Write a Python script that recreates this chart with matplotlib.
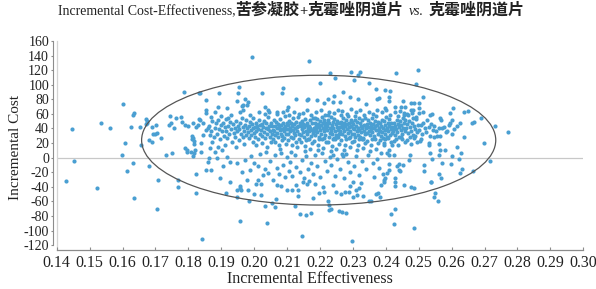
import matplotlib
matplotlib.use('Agg')
import matplotlib.pyplot as plt
from matplotlib.patches import Ellipse
import numpy as np

plt.rcParams['axes.unicode_minus'] = False

SERIF = ['Liberation Serif', 'DejaVu Serif']
CJK = ['Noto Sans CJK SC', 'DejaVu Sans']
DOT = '#4a9fd2'

# ---- data: (incremental effectiveness, incremental cost) ----
left_pts = [
    (0.1428, -32), (0.1446, 39), (0.1452, -5), (0.1523, -42), (0.1535, 47), (0.1563, 41),
    (0.1597, 3), (0.1600, 73), (0.1607, 20), (0.1615, -19), (0.1627, 42), (0.1631, 58),
    (0.1636, 61), (0.1633, -7), (0.1635, -56), (0.1652, 42), (0.1656, 18), (0.1672, 53),
    (0.1673, 50), (0.1670, 46), (0.1675, 48), (0.1679, 24), (0.1689, 22), (0.1679, -12),
    (0.1691, 42), (0.1693, 33), (0.1698, 33), (0.1704, 34), (0.1702, 45), (0.1705, -70),
    (0.1709, -30), (0.1718, 27), (0.1733, 3), (0.1741, 45), (0.1748, 47), (0.1745, 57),
    (0.1749, 7), (0.1755, 41), (0.1762, 55), (0.1768, -40), (0.1770, -31), (0.1779, 56),
    (0.1782, 49), (0.1787, 90), (0.1789, 13), (0.1791, 45), (0.1795, 8), (0.1797, 10),
    (0.1799, 44), (0.1809, 8), (0.1810, 25), (0.1812, 30), (0.1815, 27), (0.1817, 23),
    (0.1814, 48), (0.1815, 2), (0.1818, 6), (0.1819, 11), (0.1822, -23), (0.1824, -48),
    (0.1824, 42), (0.1829, 45), (0.1831, 53), (0.1832, 89), (0.1834, 52), (0.1838, 8),
    (0.1841, -112), (0.1843, 47), (0.1837, 20), (0.1845, 31), (0.1816, 19),
]

mid_left_pts = [
    (0.1853, 79), (0.1855, 65), (0.1890, 70), (0.1916, 68), (0.1880, 62), (0.1898, 57),
    (0.1870, 56), (0.1890, 51), (0.1855, 61), (0.1860, 40), (0.1855, 38), (0.1865, 13),
    (0.1880, 8), (0.1890, 14), (0.1901, 10), (0.1916, 1), (0.1887, -1), (0.1863, -1),
    (0.1860, -6), (0.1870, -17), (0.1895, -28), (0.1905, -12), (0.1926, -6), (0.1947, -8),
    (0.1972, -3), (0.1987, -17), (0.2012, -12), (0.2033, -15), (0.2043, -21), (0.2012, -31),
    (0.1977, -31), (0.1956, -39), (0.1926, -34), (0.1855, -17), (0.1892, 88), (0.1954, 97),
    (0.1951, 89), (0.1948, 78), (0.1972, 81), (0.1977, 72), (0.1965, 72), (0.1967, 65),
    (0.2023, 89), (0.1921, 55), (0.1994, 138), (0.2087, 96), (0.2084, 89), (0.2033, 69),
    (0.2043, 65), (0.2068, 63), (0.2099, 65), (0.2104, 70), (0.1982, 77), (0.1962, 71),
]

low_pts = [
    (0.1913, -48), (0.1948, -44), (0.1956, -41), (0.1948, -54), (0.1960, -44), (0.1956, -87),
    (0.1981, -44), (0.2006, -36), (0.2022, -36), (0.2020, -51), (0.2033, -66), (0.2040, -89),
    (0.2063, -68), (0.2065, -57), (0.2068, -37), (0.2083, -39), (0.2099, -44), (0.2116, -44),
    (0.2126, -38), (0.2132, -45), (0.2132, -52), (0.2125, -66), (0.2138, -77), (0.2157, -78),
    (0.2174, -76), (0.2145, -107), (0.2147, -34), (0.2160, -36), (0.2166, -32), (0.2197, -49),
    (0.2213, -47), (0.2223, -60), (0.2228, -65), (0.2226, -72), (0.2234, -70), (0.2248, -47),
    (0.2259, -73), (0.2268, -75), (0.2279, -76), (0.2277, -47), (0.2287, -47), (0.2292, -39),
    (0.2300, -34), (0.2308, -44), (0.2317, -41), (0.2312, -51), (0.2299, -54), (0.2297, -114),
    (0.2332, -53), (0.2350, -60), (0.2355, -59), (0.2369, -50), (0.2375, -48), (0.2383, -54),
    (0.2385, -38), (0.2395, -33), (0.2417, -77), (0.2427, -70), (0.2425, -91), (0.2427, -39),
    (0.2429, -33), (0.2454, -38), (0.2477, -40), (0.2485, -42), (0.2486, -97), (0.2537, -33),
    (0.2549, -49), (0.2546, -54), (0.2559, -60),
]

low_mid_pts = [
    (0.1962, -20), (0.1990, 2), (0.2000, -8), (0.2018, 5), (0.2028, -24), (0.2036, 8),
    (0.2048, -5), (0.2056, -30), (0.2062, 3), (0.2070, -14), (0.2076, -22), (0.2081, 6),
    (0.2087, -10), (0.2094, -27), (0.2100, 1), (0.2105, -18), (0.2110, -6), (0.2116, -25),
    (0.2123, 4), (0.2128, -13), (0.2139, -20), (0.2145, -3), (0.2150, -28), (0.2156, 2),
    (0.2163, -16), (0.2172, -8), (0.2180, -22), (0.2185, 3), (0.2190, -12), (0.2200, -26),
    (0.2205, 6), (0.2214, -4), (0.2220, -18), (0.2232, -10), (0.2245, -25), (0.2251, -2),
    (0.2260, -15), (0.2266, 5), (0.2274, -28), (0.2285, -6), (0.2291, -20), (0.2303, -12),
    (0.2310, 2), (0.2320, -24), (0.2327, -4), (0.2340, -16), (0.2346, 4), (0.2360, -8),
    (0.2365, -27), (0.2372, -2), (0.2380, -14), (0.2390, -22), (0.2210, -40), (0.2185, -36),
    (0.2240, -38), (0.2325, -35), (0.2265, -50), (0.2180, -55), (0.2055, -62), (0.1985, -60),
    (0.2000, -50),
]

right_pts = [
    (0.2505, 23), (0.2530, 20), (0.2532, 17), (0.2563, 19), (0.2617, 14), (0.2627, 7),
    (0.2622, -2), (0.2602, 2), (0.2599, -9), (0.2630, -16), (0.2624, -21), (0.2534, 6),
    (0.2541, -2), (0.2562, 4), (0.2570, -8), (0.2515, -10), (0.2515, -18), (0.2562, -22),
    (0.2569, -28), (0.2536, -33), (0.2666, -18), (0.2717, -5), (0.2440, -9), (0.2452, -10),
    (0.2441, -17), (0.2443, -19), (0.2434, -12), (0.2409, -9), (0.2409, -17), (0.2404, -21),
    (0.2398, -28), (0.2393, -30), (0.2429, -28), (0.2473, 4), (0.2470, -3), (0.2409, 4),
    (0.2409, 10), (0.2419, 17), (0.2404, 6), (0.2393, 20), (0.2424, 4), (0.2385, 6),
    (0.2498, 120), (0.2492, 101), (0.2513, 83), (0.2452, 78), (0.2475, 75), (0.2487, 75),
    (0.2500, 75), (0.2446, 70), (0.2459, 70), (0.2477, 65), (0.2483, 66), (0.2454, 61),
    (0.2464, 60), (0.2500, 68), (0.2513, 63), (0.2534, 58), (0.2541, 60), (0.2605, 68),
    (0.2595, 61), (0.2637, 62), (0.2651, 64), (0.2566, 55), (0.2568, 51), (0.2602, 52),
    (0.2595, 47), (0.2576, 42), (0.2561, 40), (0.2587, 37), (0.2602, 32), (0.2554, 30),
    (0.2546, 28), (0.2566, 30), (0.2639, 29), (0.2579, 11), (0.2566, 10), (0.2668, 49),
    (0.2663, 47), (0.2688, 55), (0.2731, 43), (0.2770, 35), (0.2698, 20), (0.2431, 116),
]

upper_pts = [
    (0.2168, 133), (0.2229, 116), (0.2295, 118), (0.2322, 118), (0.2314, 113), (0.2247, 109),
    (0.2302, 107), (0.2200, 103), (0.2348, 102), (0.1834, 89), (0.2127, 81), (0.2162, 79),
    (0.2165, 81), (0.2192, 79), (0.2223, 81), (0.2243, 84), (0.2270, 90), (0.2213, 75),
    (0.2315, 81), (0.2341, 73), (0.2370, 94), (0.2378, 82), (0.2396, 68), (0.2412, 92),
    (0.2409, 78), (0.2409, 83), (0.2398, 93), (0.2292, 83), (0.2262, 77), (0.2241, 77),
    (0.2373, 80), (0.2429, 70), (0.2500, 61), (0.2483, 55),
]

band_pts = [
    (0.1862, 44), (0.1868, 36), (0.1873, 50), (0.1877, 29), (0.1881, 41), (0.1884, 47),
    (0.1888, 33), (0.1893, 39), (0.1896, 25), (0.1871, 22), (0.1899, 45), (0.1866, 31),
    (0.1902, 36), (0.1905, 48), (0.1907, 30), (0.1910, 42), (0.1913, 53), (0.1915, 37),
    (0.1918, 27), (0.1921, 44), (0.1924, 32), (0.1927, 49), (0.1930, 39), (0.1933, 21),
    (0.1935, 46), (0.1938, 34), (0.1911, 18), (0.1929, 58),
    (0.1941, 41), (0.1943, 29), (0.1946, 50), (0.1948, 36), (0.1951, 44), (0.1953, 24),
    (0.1955, 39), (0.1958, 47), (0.1960, 33), (0.1962, 55), (0.1965, 42), (0.1967, 28),
    (0.1970, 37), (0.1972, 45), (0.1974, 31), (0.1976, 51), (0.1978, 40), (0.1944, 15),
    (0.1969, 19), (0.1957, 62),
    (0.1981, 35), (0.1983, 43), (0.1985, 27), (0.1987, 49), (0.1989, 38), (0.1991, 31),
    (0.1993, 46), (0.1995, 40), (0.1997, 54), (0.1999, 34), (0.2001, 42), (0.2003, 29),
    (0.2005, 48), (0.2007, 37), (0.2009, 44), (0.2011, 25), (0.2013, 39), (0.2015, 51),
    (0.2017, 33), (0.2019, 45), (0.1988, 59), (0.2006, 17), (0.1996, 21), (0.2014, 62),
    (0.2021, 38), (0.2023, 46), (0.2025, 30), (0.2027, 42), (0.2029, 35), (0.2031, 50),
    (0.2033, 27), (0.2035, 41), (0.2037, 47), (0.2039, 33), (0.2041, 39), (0.2043, 56),
    (0.2045, 44), (0.2047, 29), (0.2049, 37), (0.2051, 48), (0.2053, 32), (0.2055, 43),
    (0.2057, 38), (0.2059, 52), (0.2024, 20), (0.2040, 15), (0.2052, 22), (0.2034, 60),
    (0.2046, 63), (0.2058, 26),
    (0.2061, 36), (0.2062, 44), (0.2064, 31), (0.2066, 49), (0.2068, 40), (0.2070, 34),
    (0.2071, 46), (0.2073, 28), (0.2075, 42), (0.2077, 38), (0.2079, 53), (0.2080, 33),
    (0.2082, 45), (0.2084, 39), (0.2086, 30), (0.2088, 48), (0.2090, 41), (0.2091, 36),
    (0.2093, 57), (0.2095, 43), (0.2097, 32), (0.2099, 47), (0.2063, 22), (0.2074, 17),
    (0.2085, 24), (0.2096, 19), (0.2069, 60), (0.2089, 62), (0.2078, 12), (0.2092, 27),
    (0.2101, 39), (0.2102, 45), (0.2104, 33), (0.2106, 50), (0.2108, 41), (0.2109, 36),
    (0.2111, 47), (0.2113, 29), (0.2115, 43), (0.2117, 38), (0.2118, 54), (0.2120, 34),
    (0.2122, 46), (0.2124, 40), (0.2125, 31), (0.2127, 49), (0.2129, 42), (0.2131, 37),
    (0.2133, 56), (0.2134, 44), (0.2136, 33), (0.2138, 48), (0.2103, 24), (0.2114, 18),
    (0.2126, 21), (0.2137, 26), (0.2107, 59), (0.2121, 63), (0.2130, 14), (0.2112, 8),
    (0.2135, 60), (0.2119, 27),
    (0.2141, 44), (0.2142, 31), (0.2144, 39), (0.2146, 50), (0.2147, 35), (0.2149, 46),
    (0.2151, 28), (0.2152, 42), (0.2154, 53), (0.2156, 37), (0.2157, 45), (0.2159, 33),
    (0.2161, 48), (0.2163, 40), (0.2164, 26), (0.2166, 44), (0.2168, 36), (0.2169, 51),
    (0.2171, 41), (0.2173, 30), (0.2175, 47), (0.2176, 38), (0.2178, 55), (0.2179, 34),
    (0.2143, 22), (0.2155, 16), (0.2167, 25), (0.2177, 20), (0.2148, 61), (0.2162, 65),
    (0.2174, 58), (0.2153, 9), (0.2170, 12), (0.2158, 24),
    (0.2181, 41), (0.2182, 36), (0.2184, 48), (0.2186, 31), (0.2187, 44), (0.2189, 39),
    (0.2191, 53), (0.2192, 35), (0.2194, 46), (0.2196, 42), (0.2197, 29), (0.2199, 50),
    (0.2201, 38), (0.2203, 45), (0.2204, 33), (0.2206, 56), (0.2208, 41), (0.2209, 47),
    (0.2211, 36), (0.2213, 51), (0.2215, 43), (0.2216, 31), (0.2218, 48), (0.2219, 39),
    (0.2183, 23), (0.2195, 17), (0.2207, 26), (0.2217, 21), (0.2188, 62), (0.2202, 66),
    (0.2214, 59), (0.2193, 10), (0.2210, 13), (0.2198, 25), (0.2185, 55), (0.2212, 27),
    (0.2221, 43), (0.2222, 38), (0.2224, 52), (0.2226, 29), (0.2227, 47), (0.2229, 34),
    (0.2231, 41), (0.2232, 56), (0.2234, 37), (0.2236, 45), (0.2237, 32), (0.2239, 49),
    (0.2241, 40), (0.2243, 27), (0.2244, 53), (0.2246, 36), (0.2248, 46), (0.2249, 31),
    (0.2251, 42), (0.2253, 50), (0.2255, 38), (0.2256, 28), (0.2258, 47), (0.2259, 33),
    (0.2223, 22), (0.2235, 16), (0.2247, 25), (0.2257, 19), (0.2228, 63), (0.2242, 61),
    (0.2254, 66), (0.2233, 9), (0.2250, 12), (0.2238, 26), (0.2225, 58), (0.2252, 28),
    (0.2240, 4), (0.2230, 1),
    (0.2261, 42), (0.2262, 37), (0.2264, 49), (0.2266, 32), (0.2267, 45), (0.2269, 40),
    (0.2271, 54), (0.2272, 36), (0.2274, 47), (0.2276, 43), (0.2277, 30), (0.2279, 51),
    (0.2281, 39), (0.2283, 46), (0.2284, 34), (0.2286, 57), (0.2288, 42), (0.2289, 48),
    (0.2291, 37), (0.2293, 52), (0.2295, 44), (0.2296, 32), (0.2298, 49), (0.2299, 40),
    (0.2263, 24), (0.2275, 18), (0.2287, 27), (0.2297, 21), (0.2268, 64), (0.2282, 60),
    (0.2294, 67), (0.2273, 11), (0.2290, 14), (0.2278, 25), (0.2265, 58), (0.2292, 28),
    (0.2280, 5), (0.2270, 2),
    (0.2301, 46), (0.2302, 33), (0.2304, 39), (0.2306, 52), (0.2307, 28), (0.2309, 44),
    (0.2311, 36), (0.2312, 49), (0.2314, 41), (0.2316, 31), (0.2317, 54), (0.2319, 38),
    (0.2321, 47), (0.2323, 29), (0.2324, 43), (0.2326, 35), (0.2328, 51), (0.2329, 40),
    (0.2331, 26), (0.2333, 45), (0.2335, 37), (0.2336, 55), (0.2338, 32), (0.2339, 42),
    (0.2303, 23), (0.2315, 17), (0.2327, 26), (0.2337, 20), (0.2308, 62), (0.2322, 65),
    (0.2334, 59), (0.2313, 10), (0.2330, 13), (0.2318, 25), (0.2305, 57), (0.2332, 27),
    (0.2341, 40), (0.2342, 46), (0.2344, 34), (0.2346, 51), (0.2347, 42), (0.2349, 37),
    (0.2351, 48), (0.2352, 31), (0.2354, 44), (0.2356, 39), (0.2357, 55), (0.2359, 35),
    (0.2361, 46), (0.2363, 41), (0.2364, 30), (0.2366, 50), (0.2368, 43), (0.2369, 38),
    (0.2371, 57), (0.2373, 45), (0.2375, 33), (0.2376, 49), (0.2378, 40), (0.2379, 36),
    (0.2343, 23), (0.2355, 17), (0.2367, 26), (0.2377, 20), (0.2348, 63), (0.2362, 60),
    (0.2374, 66), (0.2353, 9), (0.2370, 12), (0.2358, 26),
    (0.2381, 37), (0.2382, 47), (0.2384, 30), (0.2386, 43), (0.2387, 52), (0.2389, 35),
    (0.2391, 41), (0.2392, 27), (0.2394, 50), (0.2396, 38), (0.2397, 45), (0.2399, 33),
    (0.2401, 56), (0.2403, 40), (0.2404, 29), (0.2406, 47), (0.2408, 36), (0.2409, 44),
    (0.2411, 53), (0.2413, 31), (0.2415, 39), (0.2416, 48), (0.2418, 34), (0.2419, 42),
    (0.2383, 24), (0.2395, 18), (0.2407, 27), (0.2417, 21), (0.2388, 62), (0.2402, 65),
    (0.2414, 58), (0.2398, 26),
    (0.2421, 41), (0.2423, 36), (0.2425, 48), (0.2427, 31), (0.2429, 44), (0.2431, 39),
    (0.2433, 52), (0.2435, 35), (0.2437, 46), (0.2439, 42), (0.2441, 29), (0.2443, 50),
    (0.2445, 38), (0.2447, 45), (0.2449, 33), (0.2451, 55), (0.2453, 41), (0.2455, 47),
    (0.2457, 36), (0.2459, 51), (0.2424, 23), (0.2436, 17), (0.2448, 26), (0.2458, 21),
    (0.2428, 62), (0.2442, 64), (0.2454, 59), (0.2432, 25), (0.2446, 28), (0.2438, 57),
    (0.2461, 40), (0.2464, 46), (0.2467, 34), (0.2470, 50), (0.2473, 42), (0.2476, 37),
    (0.2479, 48), (0.2482, 31), (0.2485, 44), (0.2488, 39), (0.2491, 53), (0.2494, 35),
    (0.2497, 45), (0.2463, 24), (0.2475, 19), (0.2487, 27), (0.2496, 22), (0.2468, 58),
    (0.2481, 61), (0.2493, 56), (0.2472, 28), (0.2489, 30),
    (0.2502, 38), (0.2506, 45), (0.2510, 32), (0.2514, 48), (0.2518, 40), (0.2522, 35),
    (0.2526, 51), (0.2530, 42), (0.2534, 30), (0.2538, 46), (0.2542, 38), (0.2547, 44),
    (0.2552, 36), (0.2508, 26),
    (0.2571, 41), (0.2583, 35), (0.2591, 45), (0.2608, 39), (0.2616, 43), (0.2625, 48),
]

x_ticks = [0.14, 0.15, 0.16, 0.17, 0.18, 0.19, 0.20, 0.21, 0.22, 0.23, 0.24, 0.25,
           0.26, 0.27, 0.28, 0.29, 0.30]
y_ticks = list(range(-120, 161, 20))

# confidence ellipse (centre, full width, full height)
ell_center = (0.2196, 24)
ell_width = 0.1076
ell_height = 178

pts = np.array(left_pts + mid_left_pts + low_pts + low_mid_pts + right_pts
               + upper_pts + band_pts)

fig = plt.figure(figsize=(5.96, 2.89), dpi=100)
ax = fig.add_axes([56.7 / 596, 1 - 249.5 / 289, 526.6 / 596, 208.5 / 289])

ax.axhline(0, color='#c8c8c8', lw=0.9, zorder=1)
ax.axvline(0.14, color='#d4d4d4', lw=0.9, zorder=1, clip_on=False)
ax.scatter(pts[:, 0], pts[:, 1], s=9, color=DOT, linewidths=0, zorder=3)
ax.add_patch(Ellipse(ell_center, ell_width, ell_height, fill=False,
                     edgecolor='#555555', lw=0.9, zorder=4))

ax.set_xlim(0.14, 0.30)
ax.set_ylim(-126, 160)
ax.set_xticks(x_ticks)
ax.set_xticklabels([f'{v:.2f}' for v in x_ticks])
ax.set_yticks(y_ticks)
ax.set_yticklabels([str(v) for v in y_ticks])

for side in ('top', 'right'):
    ax.spines[side].set_visible(False)
ax.spines['left'].set_position(('outward', 3))
ax.spines['left'].set_bounds(-120, 160)
ax.spines['left'].set_color('#8c8c8c')
ax.spines['bottom'].set_color('#8c8c8c')
ax.spines['left'].set_linewidth(0.8)
ax.spines['bottom'].set_linewidth(0.9)

ax.tick_params(axis='x', direction='in', length=2.2, width=0.8, color='#8c8c8c', pad=4)
ax.tick_params(axis='y', direction='out', length=1.5, width=0.8, color='#8c8c8c', pad=1)
for lb in ax.get_xticklabels():
    lb.set_family(SERIF)
    lb.set_fontsize(11.5)
    lb.set_color('#222222')
for lb in ax.get_yticklabels():
    lb.set_family(SERIF)
    lb.set_fontsize(10)
    lb.set_color('#222222')

fig.text(310 / 596, 1 - 283 / 289, 'Incremental Effectiveness', family=SERIF,
         fontsize=11.5, ha='center', va='baseline', color='#222222')
fig.text(16 / 596, 1 - 148 / 289, 'Incremental Cost', family=SERIF,
         fontsize=11, ha='center', va='center', rotation=90, color='#222222')

# title: mixed Latin / Chinese pieces laid out side by side
title_parts = [
    ('Incremental Cost-Effectiveness,', dict(family=SERIF, fontsize=10)),
    ('苦参凝胶', dict(family=CJK, fontsize=11.5, weight='bold')),
    ('+', dict(family=SERIF, fontsize=10.5, weight='bold')),
    ('克霉唑阴道片', dict(family=CJK, fontsize=11.5, weight='bold')),
    (None, 5),
    ('vs.', dict(family=SERIF, fontsize=10, style='italic')),
    (None, 5),
    ('克霉唑阴道片', dict(family=CJK, fontsize=11.5, weight='bold')),
]
renderer = fig.canvas.get_renderer()
items = []
for s, kw in title_parts:
    if s is None:
        items.append((None, kw))
        continue
    t = fig.text(0, 1 - 15 / 289, s, ha='left', va='baseline', color='#222222', **kw)
    items.append((t, t.get_window_extent(renderer).width))
total = sum(w for _, w in items)
xpos = 291 - total / 2
for t, w in items:
    if t is not None:
        t.set_x(xpos / 596)
    xpos += w

fig.savefig('out.png', dpi=100, facecolor='white')
